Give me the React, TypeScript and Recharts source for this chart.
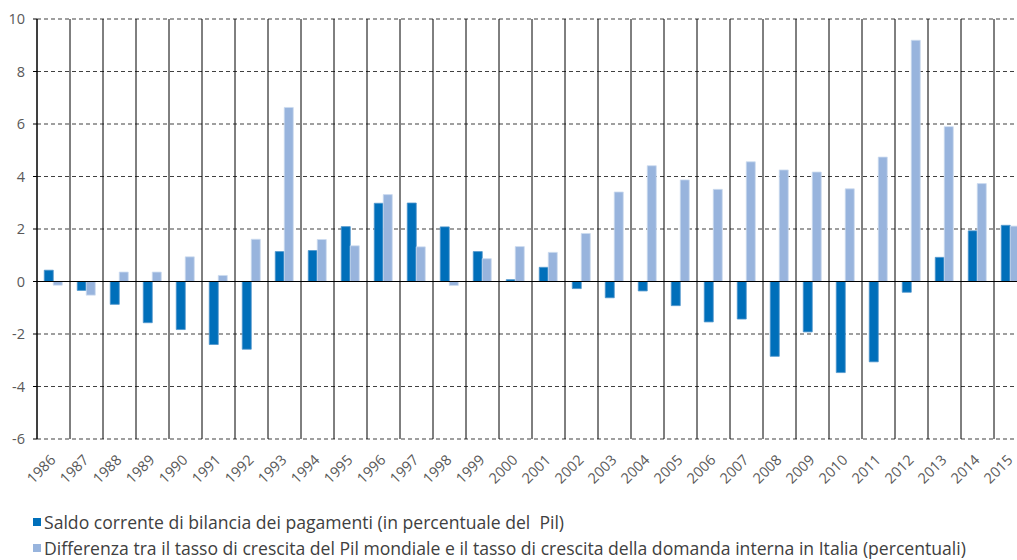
import React from 'react';
import { BarChart, Bar, XAxis, YAxis, CartesianGrid, Legend, ReferenceLine } from 'recharts';

const years = [
  '1986', '1987', '1988', '1989', '1990', '1991', '1992', '1993', '1994', '1995',
  '1996', '1997', '1998', '1999', '2000', '2001', '2002', '2003', '2004', '2005',
  '2006', '2007', '2008', '2009', '2010', '2011', '2012', '2013', '2014', '2015'
];

// saldo corrente (% del Pil)
const saldo = [
  0.43, -0.34, -0.87, -1.57, -1.83, -2.40, -2.58, 1.14, 1.18, 2.09,
  2.98, 2.99, 2.08, 1.14, 0.07, 0.54, -0.27, -0.62, -0.36, -0.92,
  -1.54, -1.43, -2.85, -1.92, -3.47, -3.06, -0.41, 0.92, 1.93, 2.14
];

// differenza crescita Pil mondiale - domanda interna Italia
const differenza = [
  -0.14, -0.52, 0.36, 0.36, 0.94, 0.23, 1.61, 6.63, 1.60, 1.36,
  3.31, 1.32, -0.15, 0.87, 1.33, 1.11, 1.83, 3.41, 4.41, 3.87,
  3.51, 4.56, 4.25, 4.17, 3.53, 4.74, 9.19, 5.90, 3.73, 2.11
];

const yTicks = [-6, -4, -2, 0, 2, 4, 6, 8, 10];

const series = [
  { key: 'saldo', name: 'Saldo corrente di bilancia dei pagamenti (in percentuale del  Pil)', color: '#006fba', border: '#4f95cc' },
  { key: 'differenza', name: 'Differenza tra il tasso di crescita del Pil mondiale e il tasso di crescita della domanda interna in Italia (percentuali)', color: '#98b4dd', border: '#cddcf0' }
];

const data = years.map((year, i) => ({ year, saldo: saldo[i], differenza: differenza[i] }));

const FONT = '"Open Sans", sans-serif';

const YearTick = (props: any) => {
  const { x, y, payload } = props;
  const tx = x + 3;
  const ty = y + 22;
  return (
    <text
      x={tx}
      y={ty}
      transform={`rotate(-45 ${tx} ${ty})`}
      textAnchor="end"
      fill="#595959"
      fontSize={14.5}
      fontFamily={FONT}
    >
      {payload.value}
    </text>
  );
};

const LegendBox = () => (
  <div style={{ fontFamily: FONT, fontSize: 17.6, color: '#404040', lineHeight: '26px' }}>
    {series.map((s) => (
      <div key={s.key} style={{ display: 'flex', alignItems: 'center', whiteSpace: 'pre' }}>
        <span style={{ display: 'inline-block', width: 8, height: 8, background: s.color, marginRight: 3 }} />
        <span>{s.name}</span>
      </div>
    ))}
  </div>
);

export default function App() {
  return (
    <div style={{ position: 'fixed', top: 0, left: 0, width: 1017, height: 560, overflow: 'hidden', background: '#fff' }}>
      <BarChart
        width={1040}
        height={560}
        data={data}
        margin={{ top: 19, right: 13, left: 0, bottom: 0 }}
        barCategoryGap="22%"
        barGap={0}
      >
        <CartesianGrid horizontal={true} vertical={false} stroke="#404040" strokeWidth={1.2} strokeDasharray="4 3" />
        <CartesianGrid
          horizontal={false}
          vertical={true}
          stroke="#000"
          verticalCoordinatesGenerator={({ offset }: any) =>
            Array.from({ length: years.length + 1 }, (_, i) => offset.left + (i * offset.width) / years.length)
          }
        />
        <XAxis
          dataKey="year"
          interval={0}
          height={121}
          axisLine={false}
          tickLine={false}
          tickSize={0}
          tickMargin={0}
          tick={<YearTick />}
        />
        <YAxis
          width={37}
          domain={[-6, 10]}
          ticks={yTicks}
          interval={0}
          allowDataOverflow
          axisLine={{ stroke: '#000' }}
          tickLine={{ stroke: '#000' }}
          tickSize={4}
          tickMargin={8}
          tick={{ fill: '#595959', fontSize: 14.5, fontFamily: FONT }}
        />
        {series.map((s) => (
          <Bar
            key={s.key}
            dataKey={s.key}
            name={s.name}
            fill={s.color}
            stroke={s.border}
            strokeWidth={0.8}
            isAnimationActive={false}
          />
        ))}
        <ReferenceLine y={0} stroke="#000" strokeWidth={1.2} />
        <Legend
          layout="horizontal"
          verticalAlign="middle"
          align="center"
          wrapperStyle={{ top: 509, left: 33, width: 1000, height: 52 }}
          content={<LegendBox />}
        />
      </BarChart>
    </div>
  );
}
